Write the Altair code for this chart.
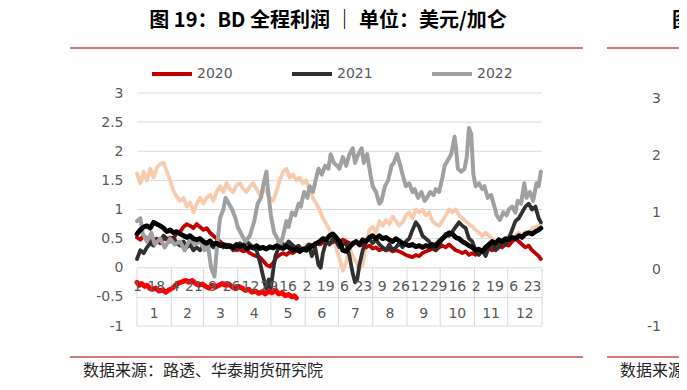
import altair as alt
import pandas as pd

# ---------------- data ----------------
grid_days = [0, 3, 6, 9, 12, 15, 18, 21, 24, 27, 30, 33, 36, 39, 42, 45, 48, 51, 54, 57,
             60, 63, 66, 69, 72, 75, 78, 81, 84, 87, 90, 93, 96, 99, 102, 105, 108, 111, 114, 117,
             120, 123, 126, 129, 132, 135, 138, 141, 144, 147, 150, 153, 156, 159, 162, 165, 168, 171, 174, 177,
             180, 183, 186, 189, 192, 195, 198, 201, 204, 207, 210, 213, 216, 219, 222, 225, 228, 231, 234, 237,
             240, 243, 246, 249, 252, 255, 258, 261, 264, 267, 270, 273, 276, 279, 282, 285, 288, 291, 294, 297,
             300, 303, 306, 309, 312, 315, 318, 321, 324, 327, 330, 333, 336, 339, 342, 345, 348, 351, 354, 357,
             360, 363, 365]

y2020 = [0.52, 0.48, 0.55, 0.50, 0.45, 0.50, 0.47, 0.42, 0.50, 0.48,
         0.52, 0.50, 0.60, 0.62, 0.70, 0.75, 0.72, 0.68, 0.75, 0.70,
         0.65, 0.68, 0.60, 0.55, 0.50, 0.45, 0.40, 0.38, 0.35, 0.33,
         0.30, 0.32, 0.28, 0.30, 0.25, 0.22, 0.20, 0.18, 0.12, 0.05,
         0.02, 0.08, 0.18, 0.22, 0.25, 0.22, 0.27, 0.25, 0.30, 0.28,
         0.33, 0.35, 0.40, 0.38, 0.42, 0.40, 0.43, 0.45, 0.42, 0.44,
         0.47, 0.43, 0.48, 0.45, 0.42, 0.40, 0.45, 0.38, 0.40, 0.35,
         0.38, 0.33, 0.35, 0.30, 0.33, 0.30, 0.32, 0.28, 0.30, 0.28,
         0.25, 0.22, 0.20, 0.18, 0.22, 0.20, 0.25, 0.28, 0.30, 0.33,
         0.30, 0.35, 0.38, 0.35, 0.40, 0.35, 0.30, 0.28, 0.25, 0.28,
         0.22, 0.25, 0.22, 0.25, 0.28, 0.30, 0.33, 0.30, 0.35, 0.38,
         0.35, 0.40, 0.38, 0.45, 0.50, 0.45, 0.40, 0.35, 0.38, 0.30,
         0.25, 0.20, 0.15]

y2019 = [1.62, 1.45, 1.65, 1.50, 1.70, 1.55, 1.72, 1.78, 1.80, 1.65,
         1.50, 1.32, 1.22, 1.15, 1.20, 1.05, 1.12, 0.95, 1.10, 1.20,
         1.10, 1.20, 1.25, 1.15, 1.30, 1.40, 1.30, 1.45, 1.35, 1.30,
         1.42, 1.45, 1.35, 1.30, 1.40, 1.45, 1.35, 1.25, 1.35, 1.30,
         1.20, 1.15, 1.30, 1.50, 1.65, 1.70, 1.55, 1.60, 1.50, 1.55,
         1.45, 1.50, 1.35, 1.20, 1.10, 1.00, 0.85, 0.75, 0.65, 0.50,
         0.35, 0.15, -0.05, 0.10, 0.35, 0.20, 0.10, -0.02, 0.05, 0.40,
         0.65, 0.70, 0.60, 0.80, 0.72, 0.82, 0.75, 0.88, 0.80, 0.72,
         0.78, 0.90, 0.95, 0.85, 1.00, 0.95, 1.00, 0.90, 0.95, 0.80,
         0.75, 0.72, 0.80, 0.90, 1.00, 0.95, 1.00, 0.90, 0.85, 0.80,
         0.75, 0.70, 0.65, 0.60, 0.55, 0.60, 0.55, 0.50, 0.45, 0.50,
         0.48, 0.45, 0.55, 0.50, 0.55, 0.60, 0.55, 0.62, 0.60, 0.68,
         0.70, 0.72, 0.75]

y2023 = [0.58, 0.65, 0.70, 0.72, 0.68, 0.78, 0.75, 0.72, 0.68, 0.62,
         0.65, 0.60, 0.62, 0.58, 0.55, 0.52, 0.55, 0.50, 0.48, 0.50,
         0.45, 0.42, 0.46, 0.40, 0.42, 0.38, 0.40, 0.36, 0.38, 0.35,
         0.40, 0.36, 0.38, 0.33, 0.36, 0.34, 0.38, 0.33, 0.35, 0.32,
         0.36, 0.34, 0.38, 0.35, 0.33, 0.37, 0.34, 0.30, 0.33, 0.28,
         0.32, 0.30, 0.35, 0.38, 0.42, 0.45, 0.50, 0.48, 0.55, 0.58,
         0.52, 0.45, 0.30, 0.28, 0.35, 0.42, 0.45, 0.40, 0.48, 0.45,
         0.52, 0.55, 0.50, 0.55, 0.50, 0.52, 0.48, 0.45, 0.50, 0.46,
         0.42, 0.40, 0.38, 0.40, 0.36, 0.38, 0.35, 0.38, 0.36, 0.40,
         0.38, 0.45, 0.50, 0.55, 0.60, 0.58, 0.52, 0.50, 0.45, 0.42,
         0.38, 0.35, 0.30, 0.32, 0.28, 0.35, 0.40, 0.45, 0.42, 0.48,
         0.45, 0.50, 0.48, 0.52, 0.50, 0.55, 0.52, 0.58, 0.60, 0.58,
         0.62, 0.65, 0.68]

d2021 = [0, 3, 6, 9, 12, 15, 18, 21, 24, 27, 30, 33, 36, 39, 42, 45, 48, 51, 54, 57,
         60, 63, 66, 69, 72, 75, 78, 81, 84, 87, 90, 93, 96, 99, 102, 105, 108, 111, 114, 117,
         119, 121, 123, 125, 128, 131, 134, 137, 140, 143, 146, 149, 152, 155, 158, 161, 164,
         166, 168, 171, 174, 177, 180, 183, 186, 189, 192, 195, 197, 199, 201,
         204, 207, 210, 213, 216, 219, 222, 225, 228, 231, 234, 237, 240, 243, 246, 249, 252, 255,
         258, 261, 264, 267, 270, 273, 276, 279, 282, 285, 288, 291, 294, 297, 300, 303, 306, 309,
         312, 315, 318, 321, 324, 327, 330, 333, 336, 339, 342, 345, 348, 351, 354, 357, 360, 363, 365]
y2021 = [0.15, 0.30, 0.25, 0.35, 0.42, 0.38, 0.50, 0.45, 0.55, 0.50,
         0.45, 0.52, 0.42, 0.38, 0.45, 0.35, 0.40, 0.30, 0.35, 0.30,
         0.38, 0.33, 0.40, 0.35, 0.45, 0.40, 0.35, 0.40, 0.38, 0.30,
         0.35, 0.42, 0.38, 0.45, 0.40, 0.35, 0.30, 0.10, -0.15, -0.38,
         -0.20, -0.35, -0.05, 0.20,
         0.35, 0.42, 0.38, 0.45, 0.40, 0.35, 0.38, 0.30, 0.32, 0.40, 0.20, 0.35, 0.05,
         0.00, 0.25,
         0.45, 0.40, 0.50, 0.45, 0.35, 0.40, 0.42, 0.20,
         -0.10, -0.25, -0.20, 0.05,
         0.30, 0.45, 0.50, 0.42, 0.48, 0.40, 0.35, 0.30, 0.40, 0.30,
         0.35, 0.42, 0.35, 0.45, 0.50, 0.65, 0.78, 0.70, 0.55, 0.50,
         0.45, 0.35, 0.30, 0.38, 0.50, 0.58, 0.55, 0.62, 0.70, 0.78,
         0.72, 0.68, 0.50, 0.45, 0.30, 0.22, 0.30, 0.20, 0.35, 0.40,
         0.30, 0.35, 0.45, 0.40, 0.50, 0.65, 0.80, 0.85, 0.95, 1.05,
         1.10, 1.00, 1.05, 0.85, 0.78]

d2022 = [0, 3, 5, 9, 13, 16, 21, 25, 30, 34, 39, 43, 48, 52, 57, 61, 64, 67, 70, 72,
         75, 78, 80, 83, 86, 89, 91, 95, 98, 102, 106, 109, 112, 115, 117, 118, 121, 124, 127, 129,
         132, 135, 137, 140, 143, 146, 148, 151, 154, 156, 159, 162, 164, 167, 170, 173, 175, 178, 181, 183,
         186, 189, 192, 195, 197, 200, 203, 205, 208, 211, 213, 216, 219, 221, 224, 227, 230, 232, 235, 238,
         240, 243, 246, 249, 251, 254, 257, 260, 262, 265, 268, 270, 273, 276, 278, 281, 284, 287, 288, 290,
         293, 296, 298, 300, 302, 304, 306, 309, 312, 314, 317, 320, 323, 325, 328, 331, 334, 336, 339, 342,
         344, 347, 350, 352, 355, 358, 361, 363, 365]
y2022 = [0.80, 0.85, 0.60, 0.45, 0.60, 0.40, 0.50, 0.35, 0.50, 0.40,
         0.45, 0.30, 0.50, 0.40, 0.45, 0.30, 0.40, 0.00, -0.15, 0.30,
         0.85, 1.00, 1.20, 1.10, 1.00, 0.85, 0.70, 0.55, 0.45, 0.55,
         0.80, 1.10, 1.20, 1.50, 1.65, 1.40, 0.90, 0.60, 0.50, 0.35,
         0.55, 0.80, 0.70, 0.95, 0.90, 1.10, 1.05, 1.30, 1.20, 1.40,
         1.30, 1.55, 1.70, 1.60, 1.75, 1.70, 1.95, 1.80, 1.75, 1.70,
         1.90, 1.75, 1.95, 2.05, 1.80, 1.95, 2.05, 1.80, 1.95, 1.60,
         1.40, 1.30, 1.10, 1.15, 1.40, 1.50, 1.75, 1.80, 1.95, 1.75,
         1.60, 1.40, 1.45, 1.30, 1.35, 1.20, 1.30, 1.15, 1.20, 1.30,
         1.25, 1.35, 1.30, 1.55, 1.75, 1.85, 1.95, 2.25, 2.10, 1.70,
         1.65, 1.70, 1.90, 2.40, 2.30, 1.60, 1.40, 1.45, 1.35, 1.40,
         1.20, 1.25, 1.05, 0.90, 0.82, 0.95, 0.90, 1.00, 1.05, 0.95,
         1.15, 1.10, 1.45, 1.20, 1.30, 1.15, 1.45, 1.40, 1.65]

d2024 = [0, 2, 4, 7, 9, 12, 14, 17, 20, 23, 26, 29, 32, 35, 38, 41, 44, 47, 50, 53,
         56, 59, 62, 65, 68, 71, 74, 77, 80, 83, 86, 89, 92, 95, 98, 101, 104, 107, 110, 113,
         116, 119, 122, 125, 128, 131, 134, 137, 140, 142, 144]
y2024 = [-0.25, -0.30, -0.27, -0.32, -0.30, -0.36, -0.37, -0.35, -0.40, -0.38,
         -0.42, -0.38, -0.35, -0.30, -0.26, -0.24, -0.22, -0.25, -0.22, -0.27,
         -0.30, -0.28, -0.32, -0.35, -0.30, -0.33, -0.30, -0.27, -0.30, -0.28,
         -0.33, -0.36, -0.32, -0.35, -0.39, -0.37, -0.42, -0.40, -0.44, -0.41,
         -0.45, -0.40, -0.43, -0.38, -0.45, -0.43, -0.48, -0.46, -0.50, -0.48,
         -0.52]

series_order = ["2020", "2021", "2022", "2019", "2023", "2024"]
series_colors = ["#C00000", "#303030", "#A0A0A0", "#F8CBAD", "#000000", "#FF0000"]
legend_years = ["2020", "2021", "2022"]

month_labels = ["1", "2", "3", "4", "5", "6", "7", "8", "9", "10", "11", "12"]
month_edges = [0, 31, 60, 91, 121, 152, 182, 213, 244, 274, 305, 335, 366]
tick_days = [0, 17, 34, 51, 68, 85, 102, 119, 136, 153, 170, 187, 204, 221, 238, 255,
             272, 289, 306, 323, 340, 357]
tick_labels = ["1", "18", "4", "21", "9", "26", "12", "29", "16", "2", "19", "6", "23",
               "9", "26", "12", "29", "16", "2", "19", "6", "23"]
y_ticks = [-1, -0.5, 0, 0.5, 1, 1.5, 2, 2.5, 3]
grid_levels = [0.5, 1, 1.5, 2, 2.5, 3]
table_rows = [0, -0.51, -1]
right_ticks = ["3", "2", "1", "0", "-1"]   # neighbouring (cropped) panel's axis

TITLE = "图 19：BD 全程利润 ｜ 单位：美元/加仑"
SOURCE = "数据来源：路透、华泰期货研究院"

# ---------------- build ----------------
W, H = 405, 233
NUM_FONT = "DejaVu Sans"
CJK_FONT = "Noto Sans CJK SC"
GRID = "#D9D9D9"
LABEL = "#595959"

xs = alt.Scale(domain=[0, 366], nice=False, zero=False)
ys = alt.Scale(domain=[-1, 3], nice=False, zero=False)
cs = alt.Scale(domain=series_order, range=series_colors)

legend = alt.Legend(orient="none", legendX=13, legendY=-41, direction="horizontal",
                    title=None, symbolType="stroke", symbolSize=1600, symbolStrokeWidth=4,
                    labelFont=NUM_FONT, labelFontSize=14, labelColor=LABEL,
                    labelOffset=3, columnPadding=51, values=legend_years)

y_axis = alt.Axis(values=y_ticks, domain=False, ticks=False, grid=False,
                  labelPadding=14, labelFont=NUM_FONT, labelFontSize=14, labelColor=LABEL,
                  labelExpr="datum.value + ''", title=None)


def Y(field):
    return alt.Y(field, scale=ys, axis=y_axis)


def X(field):
    return alt.X(field, scale=xs, axis=None)


layers = []

layers.append(alt.Chart(pd.DataFrame({"v": grid_levels, "x0": 0, "x1": 366})).mark_rule(
    color=GRID, strokeWidth=1).encode(x=X("x0:Q"), x2="x1:Q", y=Y("v:Q")))

layers.append(alt.Chart(pd.DataFrame({"v": table_rows, "x0": 0, "x1": 366})).mark_rule(
    color=GRID, strokeWidth=1).encode(x=X("x0:Q"), x2="x1:Q", y=Y("v:Q")))

layers.append(alt.Chart(pd.DataFrame({"d": month_edges, "y0": 0, "y1": -1})).mark_rule(
    color=GRID, strokeWidth=1).encode(x=X("d:Q"), y=Y("y0:Q"), y2="y1:Q"))

series_data = {
    "2019": (grid_days, y2019, 3.8),
    "2020": (grid_days, y2020, 3.8),
    "2021": (d2021, y2021, 3.8),
    "2022": (d2022, y2022, 4),
    "2023": (grid_days, y2023, 4.8),
    "2024": (d2024, y2024, 5),
}
for s in ["2019", "2020", "2021", "2022", "2023", "2024"]:
    d, v, w = series_data[s]
    df = pd.DataFrame({"day": d, "value": v, "series": s})
    layers.append(
        alt.Chart(df).mark_line(strokeWidth=w, strokeJoin="round", strokeCap="round").encode(
            x=X("day:Q"), y=Y("value:Q"),
            color=alt.Color("series:N", scale=cs, legend=legend)))

tick_df = pd.DataFrame({"pos": [t + 0.5 for t in tick_days], "label": tick_labels, "yy": -0.33})
layers.append(alt.Chart(tick_df).mark_text(font=NUM_FONT, fontSize=14, color=LABEL,
                                           baseline="middle", align="center").encode(
    x=X("pos:Q"), y=Y("yy:Q"), text="label:N"))

mid = [(month_edges[i] + month_edges[i + 1]) / 2 for i in range(12)]
month_df = pd.DataFrame({"pos": mid, "label": month_labels, "yy": -0.80})
layers.append(alt.Chart(month_df).mark_text(font=NUM_FONT, fontSize=14, color=LABEL,
                                            baseline="middle", align="center").encode(
    x=X("pos:Q"), y=Y("yy:Q"), text="label:N"))

one = pd.DataFrame({"a": [0]})


def deco_text(txt, x, y, size, font, weight="normal", align="center", color="#000000"):
    return alt.Chart(one).mark_text(text=txt, font=font, fontSize=size, fontWeight=weight,
                                    align=align, baseline="middle", color=color).encode(
        x=alt.value(x), y=alt.value(y))


def deco_rule(x1, x2, y, color="#C0504D", w=1.5):
    return alt.Chart(one).mark_rule(color=color, strokeWidth=w).encode(
        x=alt.value(x1), x2=alt.value(x2), y=alt.value(y))


layers += [
    deco_text(TITLE, 191, -72, 20, CJK_FONT, weight="bold"),
    deco_rule(-67, 446, -45),
    deco_rule(-67, 446, 264),
    deco_text(SOURCE, -54, 278, 16, CJK_FONT, align="left", color="#262626"),
    # neighbouring panel, cropped at the page edge
    deco_text("图", 535, -72, 20, CJK_FONT, weight="bold", align="left"),
    deco_rule(470, 560, -45),
    deco_rule(470, 560, 264),
    deco_text("数据来源：", 483, 278, 16, CJK_FONT, align="left", color="#262626"),
]
# neighbouring panel's axis labels (its own spacing: 3 at top 6px, -1 at 234px)
for i, lab in enumerate(right_ticks):
    layers.append(deco_text(lab, 524, 6 + i * 57, 14, NUM_FONT, align="right", color=LABEL))

chart = alt.layer(*layers).properties(
    width=W, height=H,
    padding={"left": 129, "top": 85, "right": 137, "bottom": 56},
    autosize=alt.AutoSizeParams(type="none"),
).configure_view(stroke=None)

chart.save("out.html", embed_options={"renderer": "svg", "actions": False})
